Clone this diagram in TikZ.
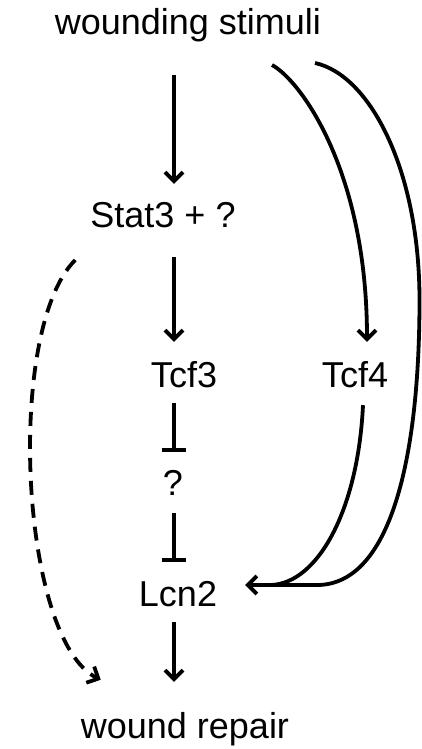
\documentclass[tikz,border=0pt]{standalone}
\usepackage{fontspec}
\setmainfont{Liberation Sans}
\usetikzlibrary{arrows.meta,calc}
\begin{document}
\begin{tikzpicture}[x=1pt,y=-1pt,
  lbl/.style={inner sep=0pt,anchor=base,font=\fontsize{36}{40}\selectfont,text height=26pt,text depth=0pt},
  lbld/.style={lbl,text depth=8pt},
  link/.style={line width=3.8pt},
  act/.style={link,-{Straight Barb[length=9pt,width=18pt]}},
  inh/.style={link,-{Bar[width=24pt]}},
  dsh/.style={act,dash pattern=on 14pt off 9pt}]
\useasboundingbox (0,0) rectangle (422,749);
\coordinate (col) at (174,0);
\node[lbld] (ws) at (188,35) {wounding stimuli};
\node[lbl] (stat) at (163,227) {Stat3 + ?};
\node[lbl] (tcf3) at (184,387) {Tcf3};
\node[lbl] (tcf4) at (355,387) {Tcf4};
\node[lbl] (q) at (173,495) {?};
\node[lbl] (lcn2) at (178,606) {Lcn2};
\node[lbld] (wr) at (185,738) {wound repair};
% main column
\draw[act] ($(ws.south -| col)+(0,32)$) -- ($(stat.north -| col)+(0,-17)$);
\draw[act] ($(stat.south -| col)+(0,30)$) -- ($(tcf3.north -| col)+(0,-19)$);
\draw[inh] ($(tcf3.south -| col)+(0,16)$) -- ($(q.north -| col)+(0,-17)$);
\draw[inh] ($(q.south -| col)+(0,18)$) -- ($(lcn2.north -| col)+(0,-18)$);
\draw[act] ($(lcn2.south -| col)+(0,16)$) -- ($(wr.north -| col)+(0,-30)$);
% right side
\coordinate (ws1) at (272,65);
\coordinate (ws2) at (315,63);
\coordinate (lcn2in) at ($(lcn2.east)+(28,-8)$);
\coordinate (merge) at ($(lcn2in)+(26,0)$);
\draw[act] (ws1) .. controls (300,80) and (367,170) .. ($(tcf4.north)+(12,-19)$);
\draw[link] ($(tcf4.south)+(8,18)$) .. controls (358,510) and (318,583) .. (merge);
\draw[act] (ws2) .. controls (370,75) and (419.5,170) .. (419.5,300)
  .. controls (419.5,460) and (390,585) .. (317,585) -- (lcn2in);
% dashed
\draw[dsh] ($(stat.west)+(-15,46)$) .. controls (5,330) and (20,640) .. ($(wr.north west)+(20,-32)$);
\end{tikzpicture}
\end{document}
